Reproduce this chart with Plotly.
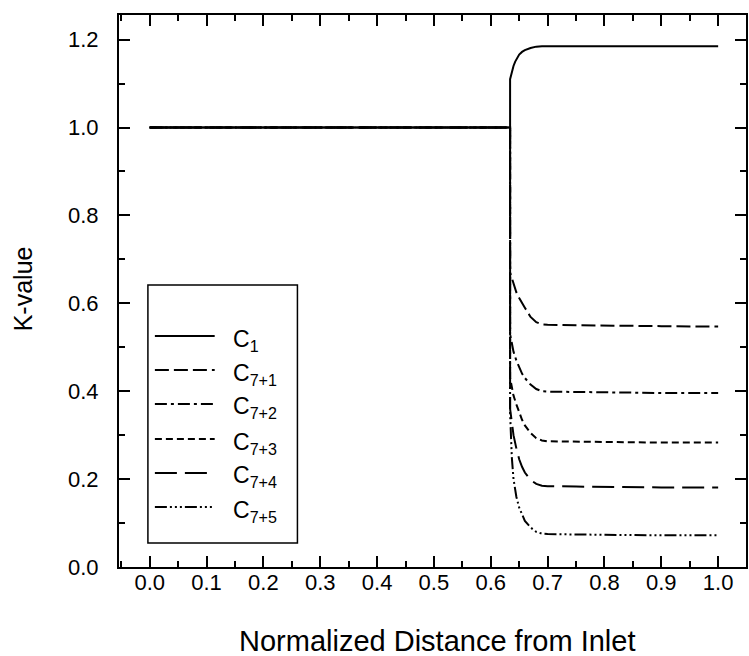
import plotly.graph_objects as go

# K-values along the normalized distance from the inlet
c1_x = [0.0, 0.634, 0.634, 0.637, 0.640, 0.643, 0.646, 0.650, 0.655, 0.660, 0.670, 0.680, 0.690, 0.700, 0.800, 0.900, 1.000]
c1_y = [1.000, 1.000, 1.110, 1.128, 1.140, 1.150, 1.158, 1.166, 1.172, 1.176, 1.181, 1.184, 1.185, 1.185, 1.185, 1.185, 1.185]

c71_x = [0.0, 0.634, 0.634, 0.640, 0.645, 0.650, 0.655, 0.660, 0.670, 0.680, 0.690, 0.700, 0.750, 0.800, 0.900, 1.000]
c71_y = [1.000, 1.000, 0.670, 0.645, 0.625, 0.612, 0.600, 0.590, 0.569, 0.557, 0.552, 0.551, 0.550, 0.549, 0.548, 0.547]

c72_x = [0.0, 0.634, 0.634, 0.640, 0.645, 0.650, 0.655, 0.660, 0.670, 0.680, 0.690, 0.700, 0.750, 0.800, 0.900, 1.000]
c72_y = [1.000, 1.000, 0.530, 0.490, 0.470, 0.455, 0.440, 0.430, 0.415, 0.405, 0.400, 0.399, 0.398, 0.397, 0.396, 0.396]

c73_x = [0.0, 0.634, 0.634, 0.640, 0.645, 0.650, 0.655, 0.660, 0.670, 0.680, 0.690, 0.700, 0.750, 0.800, 0.900, 1.000]
c73_y = [1.000, 1.000, 0.430, 0.390, 0.370, 0.350, 0.335, 0.322, 0.305, 0.293, 0.288, 0.286, 0.285, 0.284, 0.283, 0.283]

c74_x = [0.0, 0.634, 0.634, 0.640, 0.645, 0.650, 0.655, 0.660, 0.670, 0.680, 0.690, 0.700, 0.750, 0.800, 0.900, 1.000]
c74_y = [1.000, 1.000, 0.360, 0.300, 0.270, 0.245, 0.228, 0.215, 0.198, 0.189, 0.185, 0.184, 0.183, 0.182, 0.181, 0.181]

c75_x = [0.0, 0.634, 0.634, 0.637, 0.640, 0.645, 0.650, 0.655, 0.660, 0.670, 0.680, 0.690, 0.700, 0.750, 0.800, 0.900, 1.000]
c75_y = [1.000, 1.000, 0.350, 0.250, 0.200, 0.160, 0.135, 0.118, 0.105, 0.090, 0.080, 0.076, 0.075, 0.074, 0.073, 0.072, 0.072]

series_names = ["C<sub>1</sub>", "C<sub>7+1</sub>", "C<sub>7+2</sub>",
                "C<sub>7+3</sub>", "C<sub>7+4</sub>", "C<sub>7+5</sub>"]
series_x = [c1_x, c71_x, c72_x, c73_x, c74_x, c75_x]
series_y = [c1_y, c71_y, c72_y, c73_y, c74_y, c75_y]
dashes = ["solid",
          "14px,5px",
          "12px,4px,3px,4px",
          "7px,4px",
          "22px,8px",
          "12px,3px,2px,3px,2px,3px,2px,3px"]

x_ticks = [0.0, 0.1, 0.2, 0.3, 0.4, 0.5, 0.6, 0.7, 0.8, 0.9, 1.0]
y_ticks = [0.0, 0.2, 0.4, 0.6, 0.8, 1.0, 1.2]

FONT = "Liberation Sans, Arial, Helvetica, sans-serif"

# plot area in pixels
W, H = 749, 656
L, R, T, B = 119, 748, 15, 567


def px(x):
    return (x - L) / (R - L)


def py(y):
    return (B - y) / (B - T)


fig = go.Figure()
# draw the step (C1) last so the solid line sits on top
for i in [5, 4, 3, 2, 1, 0]:
    fig.add_trace(go.Scatter(
        x=series_x[i], y=series_y[i], mode="lines",
        line=dict(color="black", width=2, dash=dashes[i]),
        name=series_names[i], showlegend=False, hoverinfo="skip"))

shapes = []
annotations = []

# legend box
shapes.append(dict(type="rect", xref="paper", yref="paper",
                   x0=px(148), x1=px(298), y0=py(543), y1=py(285),
                   line=dict(color="black", width=1.5), fillcolor="white", layer="above"))
row_y = [336, 370, 404, 439, 473, 507]
for i, name in enumerate(series_names):
    shapes.append(dict(type="line", xref="paper", yref="paper",
                       x0=px(155), x1=px(215), y0=py(row_y[i]), y1=py(row_y[i]),
                       line=dict(color="black", width=2, dash=dashes[i]), layer="above"))
    annotations.append(dict(text=name, xref="paper", yref="paper",
                            x=px(231), y=py(row_y[i] + 4), xanchor="left", yanchor="middle",
                            showarrow=False, font=dict(family=FONT, size=23, color="black")))

# axis titles
annotations.append(dict(text="Normalized Distance from Inlet", xref="paper", yref="paper",
                        x=px(438), y=py(641), xanchor="center", yanchor="middle",
                        showarrow=False, font=dict(family=FONT, size=29, color="black")))
annotations.append(dict(text="K-value", xref="paper", yref="paper",
                        x=px(23), y=py(289), xanchor="center", yanchor="middle", textangle=-90,
                        showarrow=False, font=dict(family=FONT, size=25, color="black")))

axis_common = dict(
    showline=True, linewidth=2, linecolor="black", mirror="allticks",
    ticks="inside", ticklen=11, tickwidth=2, tickcolor="black",
    showgrid=False, zeroline=False, tickformat=".1f",
)

fig.update_layout(
    width=W, height=H,
    margin=dict(l=L, r=W - R, t=T, b=H - B),
    paper_bgcolor="white", plot_bgcolor="white",
    showlegend=False,
    font=dict(family=FONT, color="black"),
    shapes=shapes, annotations=annotations,
    xaxis=dict(range=[-0.054, 1.049], tickvals=x_ticks,
               minor=dict(ticks="inside", ticklen=6, tickwidth=1.5, tickcolor="black",
                          dtick=0.05, tick0=0.0),
               tickfont=dict(family=FONT, size=22), ticklabelstandoff=-5, **axis_common),
    yaxis=dict(range=[0.0, 1.256], tickvals=y_ticks,
               minor=dict(ticks="inside", ticklen=6, tickwidth=1.5, tickcolor="black",
                          dtick=0.1, tick0=0.0),
               tickfont=dict(family=FONT, size=22), ticklabelstandoff=14, **axis_common),
)

fig.write_html("out.html")
